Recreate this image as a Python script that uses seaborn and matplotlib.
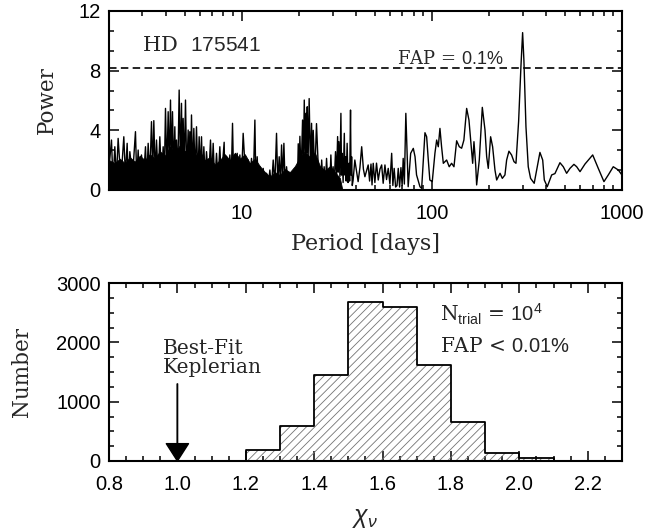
import matplotlib
matplotlib.use("Agg")
import matplotlib.pyplot as plt
import matplotlib.ticker as mticker
import pandas as pd
import seaborn as sns

# ---------------- data: periodogram ----------------
pgram_period = [
    2.0, 2.061, 2.10, 2.146, 2.19, 2.234, 2.31, 2.393, 2.44, 2.492, 2.53, 2.574, 2.66, 2.756, 2.80,
    2.847, 2.90, 2.964, 3.04, 3.112, 3.16, 3.214, 3.28, 3.346, 3.40, 3.442, 3.50, 3.555, 3.63, 3.702,
    3.78, 3.855, 3.91, 3.965, 4.03, 4.096, 4.15, 4.213, 4.26, 4.316, 4.38, 4.44, 4.49, 4.53, 4.60,
    4.679, 4.75, 4.813, 4.86, 4.911, 4.98, 5.052, 5.13, 5.218, 5.27, 5.324, 5.38, 5.433, 5.51, 5.589,
    5.68, 5.772, 5.87, 5.962, 6.05, 6.134, 6.22, 6.31, 6.41, 6.516, 6.68, 6.84, 6.95, 7.065, 7.20,
    7.356, 7.50, 7.658, 7.80, 8.07, 8.14, 8.305, 8.47, 8.647, 8.80, 8.931, 9.05, 9.188, 9.32, 9.45,
    9.60, 9.761, 9.95, 10.16, 10.5, 10.8, 11.0, 11.24, 11.5, 11.71, 11.85, 12.04, 12.25, 12.44, 12.7,
    12.95, 13.2, 13.49, 13.75, 14.04, 14.3, 14.62, 14.9, 15.22, 15.45, 15.72, 15.95, 16.18, 16.4,
    16.64, 16.9, 17.19, 17.5, 17.89, 18.25, 18.63, 19.0, 19.4, 19.6, 19.8, 20.0, 20.2, 20.5, 20.86,
    21.05, 21.3, 21.5, 21.72, 21.9, 22.08, 22.3, 22.6, 22.95, 23.27, 23.5, 23.74, 24.2, 24.7, 25.2,
    25.45, 25.7, 26.0, 26.3, 26.7, 27.1, 27.5, 27.9, 28.3, 28.7, 29.0, 29.4, 29.8, 30.2, 30.6,
    31.1, 31.5, 31.9, 32.15, 32.4, 32.8, 33.2, 33.45, 33.7, 34.1, 34.6, 34.85, 35.1, 35.4, 35.8,
    36.2, 36.6, 36.9, 37.3, 37.55, 37.8, 38.1, 38.5, 39.3, 40.9, 41.8, 42.7, 43.6, 44.4, 45.3,
    46.2, 47.0, 47.8, 48.4, 49.1, 50.1, 51.1, 52.2, 53.3, 54.4, 55.4, 56.6, 57.7, 58.9, 60.1,
    61.4, 62.3, 63.3, 64.4, 65.5, 66.5, 67.6, 68.7, 69.7, 70.6, 71.6,
    72.9, 75.0, 77.3, 79.8, 81.5, 83.0, 86.5, 88.3, 91.9, 93.8, 95.7, 97.5, 100.4, 103.7, 105.9,
    108.0, 110.2, 112.4, 114.8, 119.5, 123.3, 126.9, 130.6, 134.9, 139.3, 143.3, 147.3, 152.3, 156.6,
    159.9, 163.8, 166.4, 169.9, 171.9, 177.5, 184.1, 190.2, 194.1, 197.9, 203.6, 208.6, 214.6, 219.1,
    228.2, 234.6, 242.2, 247.2, 254.2, 262.4, 270.2, 276.8, 285.8, 294.0, 300.0, 304.7, 312.4, 321.2,
    330.4, 345.2, 370.0, 382.6, 390.2, 404.4, 426.6, 443.8, 471.5, 491.0, 511.3, 532.4, 558.6, 577.5,
    601.4, 638.6, 701.2, 750.3, 803.6, 847.0, 899.6, 956.6, 1000.0,
]
pgram_power = [
    1.5, 3.35, 0.5, 2.90, 0.8, 3.46, 0.6, 3.57, 1.0, 3.13, 0.4, 2.57, 0.9, 3.91, 0.7,
    2.68, 0.5, 2.35, 0.8, 2.90, 0.6, 3.13, 0.9, 4.58, 1.2, 4.65, 1.0, 3.35, 0.8, 3.57,
    0.7, 2.90, 1.0, 5.47, 1.2, 5.25, 1.5, 6.03, 1.4, 5.25, 1.1, 4.24, 0.9, 3.35, 1.0,
    6.70, 1.6, 5.81, 1.2, 4.80, 1.5, 6.03, 1.0, 4.02, 1.3, 3.91, 1.5, 5.03, 1.1, 4.13,
    1.0, 4.24, 0.8, 3.57, 1.2, 3.57, 0.7, 2.90, 0.9, 2.57, 0.6, 3.35, 0.8, 3.13, 0.4,
    2.46, 0.6, 2.90, 0.7, 3.2, 0.5, 2.23, 0.8, 2.35, 0.9, 4.47, 0.8, 2.35, 0.5, 2.46,
    0.7, 2.35, 0.6, 3.8, 0.5, 2.01, 0.6, 2.12, 0.8, 4.69, 0.4, 2.23, 0.2, 1.56, 0.1,
    1.45, 0.1, 1.12, 0.2, 1.34, 0.1, 2.01, 0.3, 3.80, 0.5, 2.23, 0.4, 3.02, 0.6,
    3.13, 0.3, 1.56, 0.2, 1.12, 0.1, 0.67, 0.1, 1.34, 0.3, 3.1, 1.0, 3.6, 1.0, 4.69,
    1.5, 6.03, 2.5, 5.14, 2.5, 5.58, 1.8, 6.13, 1.5, 4.47, 1.2, 4.0, 1.0, 4.45, 1.79,
    0.4, 1.34, 0.3, 2.01, 0.5, 1.56, 0.3, 2.12, 0.6, 0.89, 0.2, 2.35, 0.5, 1.56, 0.4,
    2.57, 0.8, 3.58, 1.2, 3.24, 0.9, 5.14, 1.0, 2.46, 0.5, 3.8, 1.0, 2.23, 0.6, 3.13,
    0.5, 1.79, 0.6, 5.36, 1.0, 2.23, 0.3, 0.67, 2.01, 0.56, 1.5, 2.9, 1.4, 0.89, 1.3,
    1.68, 0.6, 1.74, 0.34, 1.79, 0.5, 1.8, 0.67, 1.4, 1.68, 0.45, 1.68, 0.7, 1.45, 0.4,
    2.46, 0.3, 1.45, 0.2, 0.3, 1.45, 0.2, 1.5, 0.3, 2.12, 0.4,
    5.14, 0.22, 2.46, 2.79, 2.23, 1.01, 0.22, 0.11, 3.84, 3.57, 2.01, 0.67, 0.56, 2.46, 3.35,
    2.90, 4.13, 2.90, 1.79, 2.01, 1.56, 1.79, 1.56, 3.3, 2.9, 2.8, 3.35, 5.47, 4.69,
    3.35, 1.79, 3.24, 1.68, 0.34, 2.01, 5.54, 4.02, 2.23, 1.45, 3.57, 2.90, 1.34, 0.67,
    1.12, 0.78, 1.01, 2.01, 2.6, 2.35, 1.9, 1.79, 4.6, 8.3, 10.55, 8.7, 4.24, 1.56,
    0.78, 0.45, 2.52, 2.01, 0.67, 0.22, 1.01, 1.1, 1.83, 1.56, 1.12, 1.45, 1.72, 1.56,
    1.23, 1.74, 2.35, 1.45, 0.56, 1.01, 1.56, 1.34, 1.0,
]
# top of the solid black mass formed by the unresolved short-period peaks
band_period = [2.0, 2.146, 2.279, 2.422, 2.574, 2.734, 2.905, 3.087, 3.280, 3.485, 3.702, 3.933,
               4.180, 4.440, 4.718, 5.012, 5.324, 5.657, 6.010, 6.387, 6.786, 7.210, 7.658, 8.136,
               8.647, 9.188, 9.761, 10.37, 11.02, 11.71, 12.44, 13.22, 14.04, 14.92, 15.85, 16.84,
               17.89, 19.01, 20.20, 21.46, 22.80, 24.22, 25.74, 27.34, 29.05, 30.87, 32.80, 33.8]
band_power = [2.0, 1.8, 2.1, 1.8, 2.2, 1.9, 2.3, 2.0, 2.4, 2.1, 2.6, 2.3,
              2.9, 2.5, 3.0, 2.6, 2.8, 2.3, 2.6, 2.0, 2.2, 1.7, 2.0, 2.4,
              2.0, 2.5, 2.1, 2.4, 1.8, 2.1, 1.6, 1.2, 0.9, 1.2, 1.0, 1.4,
              1.2, 1.6, 2.2, 2.6, 2.2, 2.5, 1.6, 1.3, 1.6, 1.2, 0.8, 0.0]
fap_level = 8.2
period_ticks = [10, 100, 1000]
period_tick_labels = ["10", "100", "1000"]
power_ticks = [0, 4, 8, 12]

# ---------------- data: chi-square histogram ----------------
chi_edges = [1.1, 1.2, 1.3, 1.4, 1.5, 1.6, 1.7, 1.8, 1.9, 2.0, 2.1, 2.2, 2.3]
chi_counts = [0, 185, 590, 1455, 2680, 2595, 1615, 665, 140, 45, 5, 0]
best_fit_chi = 1.0
chi_ticks = [0.8, 1.0, 1.2, 1.4, 1.6, 1.8, 2.0, 2.2]
number_ticks = [0, 1000, 2000, 3000]

# ---------------- style ----------------
sns.set_style("ticks")
plt.rcParams["font.family"] = ["Liberation Sans", "DejaVu Sans"]
plt.rcParams["mathtext.fontset"] = "custom"
plt.rcParams["mathtext.rm"] = "Liberation Sans"
plt.rcParams["mathtext.it"] = "Liberation Sans:italic"
plt.rcParams["mathtext.bf"] = "Liberation Sans:bold"
plt.rcParams["hatch.linewidth"] = 0.6
plt.rcParams["hatch.color"] = "0.45"
SERIF = "DejaVu Serif"

W, H = 649, 530
fig = plt.figure(figsize=(W / 100, H / 100), dpi=100)
ax1 = fig.add_axes([109 / W, 1 - 190 / H, 513 / W, 179 / H])
ax2 = fig.add_axes([109 / W, 1 - 461 / H, 513 / W, 178 / H])

for ax in (ax1, ax2):
    for s in ax.spines.values():
        s.set_linewidth(1.5)
        s.set_color("black")
    ax.tick_params(which="both", direction="in", top=True, right=True,
                   colors="black", width=1.1, labelsize=14.5)
    ax.tick_params(which="major", length=7.5)
    ax.tick_params(which="minor", length=3.8)

# ---------------- top panel: periodogram ----------------
ax1.set_xscale("log")
ax1.fill_between(band_period, 0, band_power, color="black", linewidth=0.6)
pg = pd.DataFrame({"period": pgram_period, "power": pgram_power})
sns.lineplot(data=pg, x="period", y="power", ax=ax1, color="black",
             linewidth=1.0, estimator=None, sort=False)
ax1.axhline(fap_level, color="black", linewidth=1.2, linestyle=(0, (4.5, 2.6)))
ax1.set_xlim(2, 1000)
ax1.set_ylim(0, 12)
ax1.set_xticks(period_ticks)
ax1.set_xticklabels(period_tick_labels)
ax1.xaxis.set_minor_locator(mticker.LogLocator(base=10, subs=range(2, 10)))
ax1.xaxis.set_minor_formatter(mticker.NullFormatter())
ax1.set_yticks(power_ticks)
ax1.yaxis.set_minor_locator(mticker.MultipleLocator(4 / 3))
ax1.tick_params(axis="x", which="major", pad=10)
ax1.tick_params(axis="y", which="major", pad=6)
ax1.set_xlabel("Period [days]", fontfamily=SERIF, fontsize=16)
ax1.set_ylabel("Power", fontfamily=SERIF, fontsize=15.5)
ax1.xaxis.set_label_coords(0.5, -0.30)
ax1.xaxis.label.set_va("center")
ax1.yaxis.set_label_coords(-0.121, 0.5)
ax1.yaxis.label.set_va("center")

ax1.text(3.0, 9.7, r"HD  $\mathrm{175541}$", fontfamily=SERIF, fontsize=15,
         ha="left", va="center")
ax1.text(65.2, 8.45, r"FAP = $\mathrm{0.1\%}$", fontfamily=SERIF, fontsize=13,
         ha="left", va="baseline")

# ---------------- bottom panel: histogram ----------------
centers = [(a + b) / 2 for a, b in zip(chi_edges[:-1], chi_edges[1:])]
hd = pd.DataFrame({"chi": centers, "n": chi_counts})
sns.histplot(data=hd, x="chi", weights="n", bins=chi_edges, element="step",
             fill=True, ax=ax2, color="0.45", alpha=1, linewidth=0)
poly = ax2.collections[-1]
poly.set_facecolor("none")
poly.set_edgecolor("0.45")
poly.set_hatch("////")
poly.set_linewidth(0)
sns.histplot(data=hd, x="chi", weights="n", bins=chi_edges, element="step",
             fill=False, ax=ax2, color="black", linewidth=1.3)

ax2.annotate("", xy=(best_fit_chi, 0), xytext=(best_fit_chi, 1300),
             arrowprops=dict(facecolor="black", edgecolor="black", width=0.3,
                             headwidth=16, headlength=12.5, shrink=0))
ax2.text(0.957, 1740, "Best-Fit\nKeplerian", fontfamily=SERIF, fontsize=14.5,
         ha="left", va="center", linespacing=1.0)
ax2.text(1.767, 2467, r"N$_{\mathrm{trial}}$ = $\mathrm{10^{4}}$", fontfamily=SERIF,
         fontsize=14.5, ha="left", va="center")
ax2.text(1.767, 1933, r"FAP < $\mathrm{0.01\%}$", fontfamily=SERIF,
         fontsize=14.5, ha="left", va="center")

ax2.set_xlim(0.8, 2.3)
ax2.set_ylim(0, 2960)
ax2.set_xticks(chi_ticks)
ax2.set_xticklabels([f"{t:.1f}" for t in chi_ticks])
ax2.xaxis.set_minor_locator(mticker.MultipleLocator(0.05))
ax2.set_yticks(number_ticks)
ax2.yaxis.set_minor_locator(mticker.MultipleLocator(250))
ax2.tick_params(axis="x", which="major", pad=10)
ax2.tick_params(axis="y", which="major", pad=6)
ax2.set_xlabel(r"$\chi_\nu$", fontsize=18)
ax2.set_ylabel("Number", fontfamily=SERIF, fontsize=15.5)
ax2.xaxis.set_label_coords(0.5, -0.32)
ax2.xaxis.label.set_va("center")
ax2.yaxis.set_label_coords(-0.170, 0.5)
ax2.yaxis.label.set_va("center")

fig.savefig("out.png", dpi=100, facecolor="white")
